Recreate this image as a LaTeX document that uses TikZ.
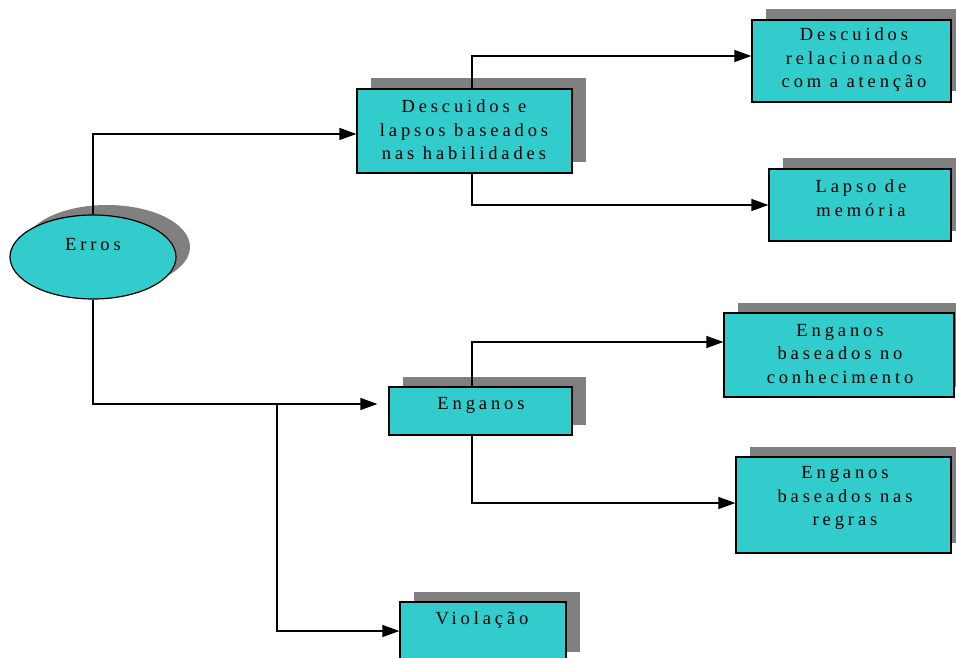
\documentclass[tikz,border=0pt]{standalone}
\usepackage{fontspec}
\setmainfont[LetterSpace=21]{Liberation Serif}
\usetikzlibrary{arrows.meta,shapes.geometric,shadows}
\definecolor{boxcyan}{HTML}{33CCCC}
\definecolor{shadowgray}{HTML}{808080}
\begin{document}
\begin{tikzpicture}[x=1pt,y=-1pt,
  shadowed/.style={general shadow={shadow xshift=13.5pt,shadow yshift=10.5pt,fill=shadowgray}},
  box/.style={draw=black,line width=1.2pt,fill=boxcyan,rectangle,inner sep=0pt,shadowed},
  oval/.style={draw=black,line width=1.2pt,fill=boxcyan,ellipse,inner sep=0pt,
     general shadow={shadow xshift=14pt,shadow yshift=10pt,fill=shadowgray}},
  lbl/.style={font=\fontsize{18.5}{23.5}\selectfont,align=center,inner sep=0pt,text=black},
  conn/.style={draw=black,line width=1.2pt,-{Triangle[length=17pt,width=12pt]}}]
\useasboundingbox (0,0) rectangle (956,658);
% shapes
\node[oval,minimum width=166pt,minimum height=84pt] (erros) at (93,257) {};
\node[box,minimum width=215pt,minimum height=84pt] (desc) at (464.5,131) {};
\node[box,minimum width=199pt,minimum height=82pt] (descrel) at (851.5,61) {};
\node[box,minimum width=182pt,minimum height=72pt] (lapso) at (860,205) {};
\node[box,minimum width=183pt,minimum height=48pt] (eng) at (480.5,411) {};
\node[box,minimum width=230pt,minimum height=84pt] (conhec) at (839,355) {};
\node[box,minimum width=215pt,minimum height=96pt] (regras) at (843.5,505) {};
\node[box,minimum width=166pt,minimum height=60pt] (viol) at (483,632) {};
% labels
\node[lbl] (terros) at (93,245) {Erros};
\node[lbl] (tdesc) at (464,130) {Descuidos e\\lapsos baseados\\nas habilidades};
\node[lbl] (tdescrel) at (854,60) {Descuidos\\relacionados\\com a atenção};
\node[lbl] (tlapso) at (861,198) {Lapso de\\memória};
\node[lbl] (teng) at (481,405) {Enganos};
\node[lbl] (tconhec) at (840,354) {Enganos\\baseados no\\conhecimento};
\node[lbl] (tregras) at (845,498) {Enganos\\baseados nas\\regras};
\node[lbl] (tviol) at (482,620) {Violação};
% connectors
\draw[conn] (erros.north) |- ([yshift=-3pt]desc.west);
\draw[conn] (erros.south) |- ([xshift=-11pt,yshift=7pt]eng.west);
\coordinate (br) at (277,404);
\draw[conn] (br) |- ([yshift=1pt]viol.west);
\draw[conn] ([xshift=7.5pt]desc.north) |- ([yshift=5pt]descrel.west);
\draw[conn] ([xshift=7.5pt]desc.south) |- (lapso.west);
\draw[conn] ([xshift=-8.5pt]eng.north) |- ([yshift=13pt]conhec.west);
\draw[conn] ([xshift=-8.5pt]eng.south) |- ([yshift=2pt]regras.west);
\end{tikzpicture}
\end{document}
